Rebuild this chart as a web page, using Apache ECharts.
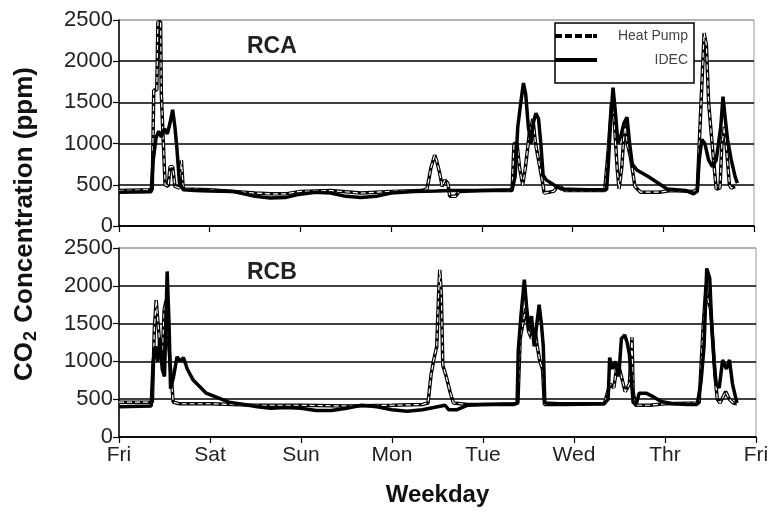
<!DOCTYPE html>
<html><head><meta charset="utf-8">
<script src="https://cdn.jsdelivr.net/npm/echarts@6/dist/echarts.min.js"></script>
<style>html,body{margin:0;padding:0;background:#fff}#c{width:773px;height:516px}</style>
</head><body><div id="c"></div>
<script>
// x = hours since Friday 00:00, y = CO2 ppm
const dayLabels = ['Fri','Sat','Sun','Mon','Tue','Wed','Thr','Fri'];
const panelTitles = ['RCA','RCB'];
const seriesNames = ['Heat Pump','IDEC'];

const rcaIDEC = [[0,410],[8.5,415],[9,780],[9.8,1070],[10.5,1150],[11.2,1080],[12,1180],[12.8,1120],[13.5,1250],[14.2,1410],[14.8,1200],[15.3,950],[16,520],[17,440],[20,430],[24,425],[30,420],[36,360],[40,340],[44,345],[47,380],[52,410],[56,400],[60,360],[64,345],[68,360],[72,400],[78,420],[84,425],[88,430],[96,430],[104,440],[104.8,600],[105.5,1200],[106.3,1500],[107,1735],[107.6,1600],[108.3,1200],[109,1000],[109.6,1250],[110.3,1370],[111,1300],[111.6,1000],[112.2,620],[113,560],[115,500],[117,450],[124,440],[129,440],[129.4,700],[130.1,1300],[130.7,1680],[131.3,1400],[132,1000],[132.8,1100],[133.6,1250],[134.4,1320],[135.1,1000],[135.8,750],[137,680],[140,600],[143,510],[145,450],[150,430],[152,390],[153,420],[153.5,800],[154.2,1050],[155,1000],[156,800],[157,720],[158,800],[159.2,1200],[159.8,1570],[160.4,1300],[161,1050],[162,800],[163,600],[163.6,520]];

const rcaHeatPump = [[0,430],[8.8,440],[9.2,1650],[10,1650],[10.3,2480],[11,2480],[11.2,1600],[11.6,1150],[12.2,500],[13,480],[13.5,720],[14.2,720],[14.8,480],[16,460],[16.5,800],[17,450],[24,440],[36,400],[40,390],[44,390],[48,420],[56,430],[64,400],[72,420],[80,430],[81.5,450],[82.5,700],[83.5,860],[84,800],[84.8,650],[85.5,480],[86.2,560],[87,520],[87.5,360],[89,360],[90,420],[96,430],[104,430],[104.5,1000],[105.3,1000],[106,700],[106.8,500],[107.5,700],[108.5,1100],[109.5,1300],[110.2,1000],[111,800],[111.8,600],[112.5,400],[115,420],[116,480],[117,470],[118,430],[128.5,430],[129.5,960],[130.3,1500],[131,1300],[131.8,700],[132.3,450],[133,700],[133.8,1250],[134.5,1000],[135.3,840],[136.5,480],[138,410],[143,410],[146,430],[152,420],[153,450],[154,1500],[154.8,2340],[155.4,2200],[156,1490],[156.6,1170],[157.3,800],[158,450],[159,460],[159.5,1000],[160.2,1200],[160.8,900],[161.5,500],[162,460],[163,480]];

const rcbIDEC = [[0,400],[8.5,410],[9,1000],[9.6,1200],[10.2,1000],[10.8,1300],[11.4,900],[12,800],[12.7,2190],[13.2,1500],[13.6,640],[14.4,800],[15.3,1060],[16.2,1000],[17,1050],[18,900],[19.6,750],[21,680],[23,580],[26,520],[29,460],[33,430],[36.5,400],[40,380],[44,390],[48,380],[52,350],[56,350],[60,380],[64,420],[68,400],[72,360],[76,340],[80,360],[84,400],[86,420],[87,360],[89,360],[92,420],[96,430],[104,440],[105,450],[105.3,1150],[106,1600],[106.9,2080],[107.5,1720],[108.2,1400],[108.8,1600],[109.5,1200],[110.2,1500],[110.8,1750],[111.4,1500],[111.9,1200],[112.3,450],[116,440],[120,440],[128,440],[129,500],[129.4,1050],[130.2,900],[131,1000],[131.8,800],[132.5,1300],[133.4,1350],[134,1250],[134.6,1100],[135.6,450],[136.5,450],[137.2,580],[139,580],[141,530],[143,470],[146,440],[150,430],[152.5,430],[153.5,730],[154.3,1200],[155,2230],[155.8,2100],[156.4,1400],[156.9,1020],[157.5,700],[158.3,650],[159.2,1020],[160.2,900],[161,1020],[161.8,700],[162.5,550],[163,450]];

const rcbHeatPump = [[0,460],[8.8,460],[9.3,1400],[9.8,1810],[10.3,1500],[10.8,1200],[11.4,1000],[11.9,1680],[12.4,1800],[13,1300],[13.6,900],[14.3,460],[16,440],[24,440],[36,420],[48,420],[60,410],[72,420],[80,430],[81.5,450],[82.3,820],[83,1020],[83.8,1200],[84.3,1900],[84.6,2210],[85,1900],[85.4,950],[86.3,800],[87.3,600],[88.2,450],[92,430],[104,430],[105.2,450],[105.8,1300],[106.5,1500],[107.3,1700],[108,1400],[108.8,1300],[109.5,1500],[110.3,1200],[111,1000],[111.7,900],[112.2,430],[118,430],[128,440],[129.5,700],[130.5,650],[131.5,1000],[132.5,800],[133.5,600],[134.6,700],[135.3,1320],[135.6,600],[136.2,420],[140,420],[144,440],[153,450],[154,1400],[154.8,2000],[155.4,1800],[156,1700],[156.6,1300],[157.2,800],[157.8,500],[158.5,450],[160,600],[161,500],[162,450],[163,440]];

const FONT = '"Liberation Sans", Arial, Helvetica, sans-serif';
const chart = echarts.init(document.getElementById('c'), null, {renderer:'canvas'});

function xAx(idx, showLabels) {
  return {
    type:'value', gridIndex: idx, min:0, max:168, interval:24,
    axisLine:{show:true, onZero:false, lineStyle:{color:'#000', width:1.5}},
    axisTick:{show:true, length:6, lineStyle:{color:'#000', width:1.2}},
    axisLabel:{show:showLabels, fontFamily:FONT, fontSize:21, color:'#222', margin:8,
      formatter: v => dayLabels[Math.round(v/24)]},
    splitLine:{show:false},
    name: showLabels ? 'Weekday' : '', nameLocation:'middle', nameGap:46,
    nameTextStyle:{fontFamily:FONT, fontSize:24, fontWeight:'bold', color:'#111'}
  };
}
function yAx(idx) {
  return {
    type:'value', gridIndex: idx, min:0, max:2500, interval:500,
    axisLine:{show:true, lineStyle:{color:'#000', width:1.5}},
    axisTick:{show:true, length:6, lineStyle:{color:'#000', width:1.2}},
    axisLabel:{fontFamily:FONT, fontSize:22, color:'#222', margin:6, formatter: v => String(v)},
    splitLine:{show:true, lineStyle:{color:['#000','#000','#000','#000','#000','#aaa'], width:1.5}}
  };
}
function hpSeries(data, idx) {
  return [
    {name:'Heat Pump', type:'line', xAxisIndex:idx, yAxisIndex:idx, data:data, symbol:'none', silent:true,
      lineStyle:{color:'#000', width:3.5}, z:2},
    {name:'hpcore'+idx, type:'line', xAxisIndex:idx, yAxisIndex:idx, data:data, symbol:'none', silent:true,
      lineStyle:{color:'#fff', width:1.2, type:[5,3]}, z:3}
  ];
}
function idecSeries(data, idx) {
  return {name:'IDEC', type:'line', xAxisIndex:idx, yAxisIndex:idx, data:data, symbol:'none', silent:true,
    lineStyle:{color:'#000', width:3.5}, z:4};
}

chart.setOption({
  animation:false,
  backgroundColor:'#fff',
  grid:[
    {left:119, right:19, top:20, height:206, show:true, borderColor:'#999', borderWidth:1},
    {left:119, right:17, top:248, height:189, show:true, borderColor:'#999', borderWidth:1}
  ],
  xAxis:[xAx(0,false), xAx(1,true)],
  yAxis:[yAx(0), yAx(1)],
  legend:{
    left:555, top:23, orient:'vertical', itemWidth:42, itemHeight:4, itemGap:10,
    padding:[6,6,16,0], borderColor:'#000', borderWidth:1.5, backgroundColor:'#fff',
    selectedMode:false, z:10,
    data:[
      {name:seriesNames[0], icon:'path://M0,0h7v4h-7z M10,0h7v4h-7z M20,0h7v4h-7z M30,0h7v4h-7z M38,0h4v4h-4z', itemStyle:{color:'#000', borderWidth:0}},
      {name:seriesNames[1], icon:'rect', itemStyle:{color:'#000', borderWidth:0}}
    ],
    formatter: n => '{r|' + n + '}',
    textStyle:{fontFamily:FONT, fontSize:14, color:'#444',
      rich:{r:{width:86, align:'right', fontFamily:FONT, fontSize:14, color:'#444'}}}
  },
  graphic:[
    {type:'text', left:247, top:35, style:{text:panelTitles[0], font:'bold 23px ' + FONT, fill:'#222'}},
    {type:'text', left:247, top:261, style:{text:panelTitles[1], font:'bold 23px ' + FONT, fill:'#222'}},
    {type:'text', x:10, y:224, rotation:Math.PI/2,
      style:{text:'{a|CO}{s|2}{a| Concentration (ppm)}', align:'center', verticalAlign:'top',
        rich:{a:{fontFamily:FONT, fontSize:26, fontWeight:'bold', fill:'#111', color:'#111', lineHeight:28},
              s:{fontFamily:FONT, fontSize:18, fontWeight:'bold', fill:'#111', color:'#111', padding:[12,1,0,1]}}}}
  ],
  series:[
    ...hpSeries(rcaHeatPump,0), idecSeries(rcaIDEC,0),
    ...hpSeries(rcbHeatPump,1), idecSeries(rcbIDEC,1)
  ]
});
</script></body></html>
